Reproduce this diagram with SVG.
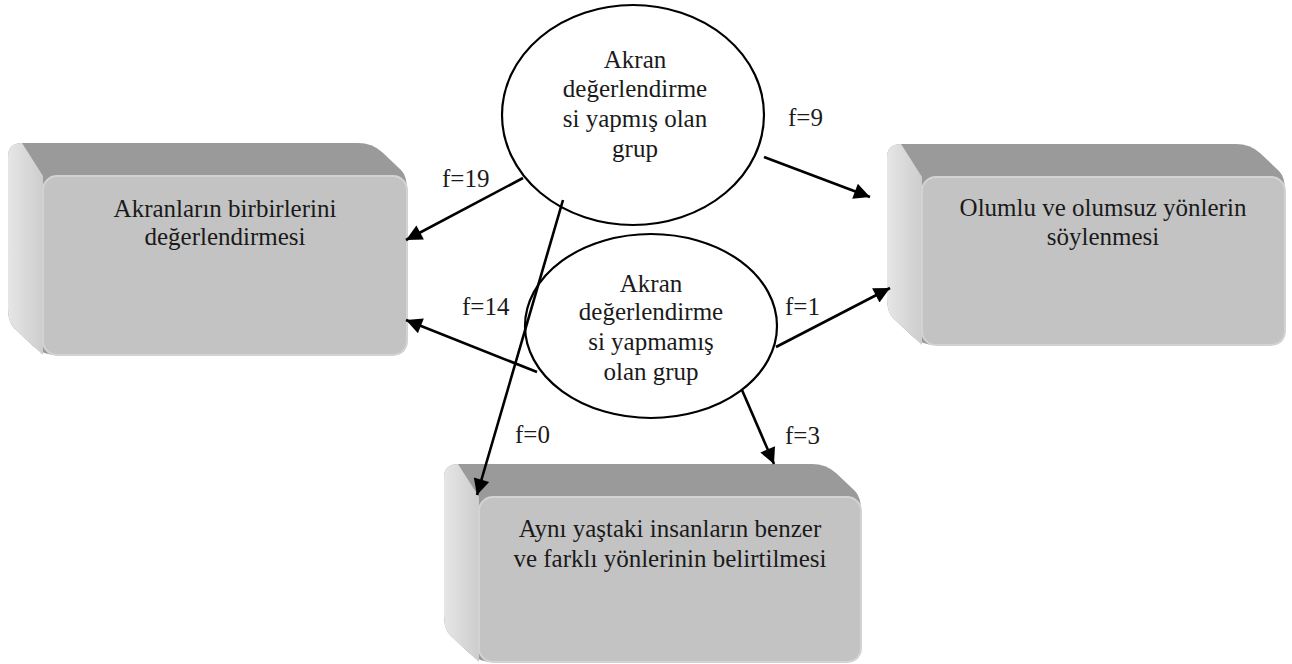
<svg xmlns="http://www.w3.org/2000/svg" width="1292" height="664" viewBox="0 0 1292 664">
<style>
  .hull { fill: #9a9a9a; }
  .side { fill: url(#sideGrad); }
  .front { fill: #c3c3c3; stroke: #d3d3d3; stroke-width: 2; }
  .oval { fill: #ffffff; stroke: #000000; stroke-width: 2.2; }
  .txt { font-family: "Liberation Serif", "DejaVu Serif", serif; font-size: 25px; fill: #1a1a1a; text-anchor: middle; }
  .lbl { font-family: "Liberation Serif", "DejaVu Serif", serif; font-size: 25px; fill: #1a1a1a; }
  .conn { stroke: #000000; stroke-width: 2.6; fill: none; marker-end: url(#arrow); }
</style>
<defs>
  <linearGradient id="sideGrad" x1="0" y1="0" x2="1" y2="0">
    <stop offset="0" stop-color="#e6e6e6"/>
    <stop offset="1" stop-color="#cdcdcd"/>
  </linearGradient>
  <marker id="arrow" viewBox="0 0 10 10" refX="10" refY="5" markerWidth="20" markerHeight="16" markerUnits="userSpaceOnUse" orient="auto">
    <path d="M0,0 L10,5 L0,10 Z" fill="#000000"/>
  </marker>
</defs>

<g id="box-akranlarin" transform="translate(8,143)">
  <path class="hull" d="M14,0 L350,0 Q364,0 374,9 L393,27 Q399,33 399,47 L399,198 Q399,212 385,212 L49,212 Q35,212 25,203 L6,185 Q0,179 0,165 L0,14 Q0,0 14,0 Z"/>
  <path class="side" d="M0,14 Q0,0 14,0 L35,33 L35,212 L25,203 L6,185 Q0,179 0,165 Z"/>
  <rect class="front" x="35" y="33" width="364" height="179" rx="14"/>
  <text class="txt" x="217" y="74">Akranların birbirlerini</text>
  <text class="txt" x="217" y="102">değerlendirmesi</text>
</g>

<g id="box-olumlu" transform="translate(887,144)">
  <path class="hull" d="M14,0 L349,0 Q363,0 373,9 L392,27 Q398,33 398,47 L398,187 Q398,201 384,201 L49,201 Q35,201 25,192 L6,174 Q0,168 0,154 L0,14 Q0,0 14,0 Z"/>
  <path class="side" d="M0,14 Q0,0 14,0 L35,33 L35,201 L25,192 L6,174 Q0,168 0,154 Z"/>
  <rect class="front" x="35" y="33" width="363" height="168" rx="14"/>
  <text class="txt" x="216" y="72">Olumlu ve olumsuz yönlerin</text>
  <text class="txt" x="216" y="101">söylenmesi</text>
</g>

<g id="box-ayni" transform="translate(444,464)">
  <path class="hull" d="M14,0 L368,0 Q382,0 392,9 L411,27 Q417,33 417,47 L417,184 Q417,198 403,198 L49,198 Q35,198 25,189 L6,171 Q0,165 0,151 L0,14 Q0,0 14,0 Z"/>
  <path class="side" d="M0,14 Q0,0 14,0 L35,33 L35,198 L25,189 L6,171 Q0,165 0,151 Z"/>
  <rect class="front" x="35" y="33" width="382" height="165" rx="14"/>
  <text class="txt" x="226" y="73">Aynı yaştaki insanların benzer</text>
  <text class="txt" x="226" y="103">ve farklı yönlerinin belirtilmesi</text>
</g>

<g id="oval-yapmis">
  <ellipse class="oval" cx="633" cy="115" rx="131" ry="110"/>
  <text class="txt" x="635" y="68">Akran</text>
  <text class="txt" x="635" y="97">değerlendirme</text>
  <text class="txt" x="635" y="127">si yapmış olan</text>
  <text class="txt" x="635" y="157">grup</text>
</g>

<g id="oval-yapmamis">
  <ellipse class="oval" cx="651" cy="326" rx="126" ry="92"/>
  <text class="txt" x="651" y="292">Akran</text>
  <text class="txt" x="651" y="320">değerlendirme</text>
  <text class="txt" x="651" y="350">si yapmamış</text>
  <text class="txt" x="651" y="380">olan grup</text>
</g>

<g id="connectors">
  <line class="conn" x1="523" y1="178" x2="406" y2="240"/>
  <line class="conn" x1="537" y1="372" x2="406" y2="320"/>
  <line class="conn" x1="563" y1="200" x2="477" y2="495"/>
  <line class="conn" x1="764" y1="157" x2="870" y2="197"/>
  <line class="conn" x1="776" y1="347" x2="890" y2="288"/>
  <line class="conn" x1="742" y1="390" x2="774" y2="464"/>
</g>

<g id="labels">
  <text class="lbl" x="442" y="187">f=19</text>
  <text class="lbl" x="462" y="315">f=14</text>
  <text class="lbl" x="788" y="126">f=9</text>
  <text class="lbl" x="785" y="315">f=1</text>
  <text class="lbl" x="515" y="443">f=0</text>
  <text class="lbl" x="785" y="444">f=3</text>
</g>
</svg>
